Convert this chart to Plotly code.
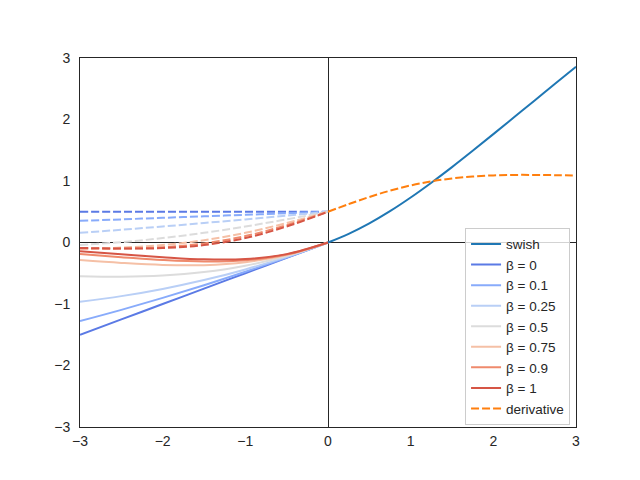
"""Swish activation for several beta values, with derivatives."""

import plotly.graph_objects as go

# x samples for the negative half (per-beta curves) and positive half (beta = 1)
x_neg = [-3.0, -2.5, -2.0, -1.5, -1.0, -0.5, 0.0]
x_pos = [0.0, 0.25, 0.5, 0.75, 1.0, 1.25, 1.5, 1.75, 2.0, 2.25, 2.5, 2.75, 3.0]

betas = ["0", "0.1", "0.25", "0.5", "0.75", "0.9", "1"]
beta_colors = ["#5b7ae5", "#88abfb", "#b9cff6", "#dcdcdc", "#f5c0a6", "#ef8a6c", "#d65545"]

swish_neg = [
    [-1.5, -1.25, -1.0, -0.75, -0.5, -0.25, 0.0],
    [-1.277, -1.095, -0.900, -0.694, -0.475, -0.244, 0.0],
    [-0.962, -0.872, -0.755, -0.611, -0.438, -0.234, 0.0],
    [-0.547, -0.557, -0.538, -0.481, -0.378, -0.219, 0.0],
    [-0.286, -0.332, -0.365, -0.368, -0.321, -0.204, 0.0],
    [-0.189, -0.238, -0.284, -0.309, -0.289, -0.195, 0.0],
    [-0.142, -0.190, -0.238, -0.274, -0.269, -0.189, 0.0],
]
deriv_neg = [
    [0.5, 0.5, 0.5, 0.5, 0.5, 0.5, 0.5],
    [0.352, 0.376, 0.401, 0.425, 0.450, 0.475, 0.5],
    [0.157, 0.207, 0.260, 0.317, 0.376, 0.438, 0.5],
    [-0.041, 0.006, 0.072, 0.157, 0.260, 0.376, 0.5],
    [-0.099, -0.083, -0.041, 0.037, 0.157, 0.317, 0.5],
    [-0.096, -0.099, -0.077, -0.015, 0.104, 0.282, 0.5],
    [-0.088, -0.099, -0.091, -0.041, 0.072, 0.260, 0.5],
]

swish_pos = [0.0, 0.141, 0.311, 0.509, 0.731, 0.972, 1.226, 1.491,
             1.762, 2.036, 2.310, 2.585, 2.858]
deriv_pos = [0.5, 0.624, 0.740, 0.843, 0.928, 0.994, 1.041, 1.073,
             1.091, 1.099, 1.099, 1.095, 1.088]

fig = go.Figure()

for i, (b, color) in enumerate(zip(betas, beta_colors)):
    fig.add_trace(
        go.Scatter(
            x=x_neg,
            y=swish_neg[i],
            mode="lines",
            name=f"β = {b}",
            line=dict(color=color, width=2, shape="spline"),
            legendrank=10 + i,
        )
    )
    fig.add_trace(
        go.Scatter(
            x=x_neg,
            y=deriv_neg[i],
            mode="lines",
            showlegend=False,
            line=dict(color=color, width=2, dash="8px,3px", shape="spline"),
        )
    )

fig.add_trace(
    go.Scatter(
        x=x_pos,
        y=swish_pos,
        mode="lines",
        name="swish",
        line=dict(color="#1f77b4", width=2, shape="spline"),
        legendrank=1,
    )
)
fig.add_trace(
    go.Scatter(
        x=x_pos,
        y=deriv_pos,
        mode="lines",
        name="derivative",
        line=dict(color="#ff7f0e", width=2, dash="8px,3px", shape="spline"),
        legendrank=100,
    )
)

axis_style = dict(
    range=[-3, 3],
    dtick=1,
    showgrid=False,
    zeroline=True,
    zerolinecolor="#262626",
    zerolinewidth=0.8,
    showline=True,
    mirror=True,
    linecolor="#262626",
    linewidth=1,
    ticks="",
    tickfont=dict(family="Liberation Sans, Arial", size=14, color="#262626"),
)

fig.update_layout(
    width=640,
    height=480,
    margin=dict(l=72, r=72, t=50, b=61),
    paper_bgcolor="white",
    plot_bgcolor="white",
    showlegend=True,
    legend=dict(
        x=0.988,
        y=0.006,
        xanchor="right",
        yanchor="bottom",
        bgcolor="rgba(255,255,255,0.8)",
        bordercolor="#cccccc",
        borderwidth=1,
        font=dict(family="Liberation Sans, Arial", size=13.5, color="#262626"),
        tracegroupgap=0,
    ),
)
fig.update_xaxes(**axis_style, ticklabelstandoff=1)
fig.update_yaxes(**axis_style, ticklabelstandoff=6)

fig.write_html("out.html")
